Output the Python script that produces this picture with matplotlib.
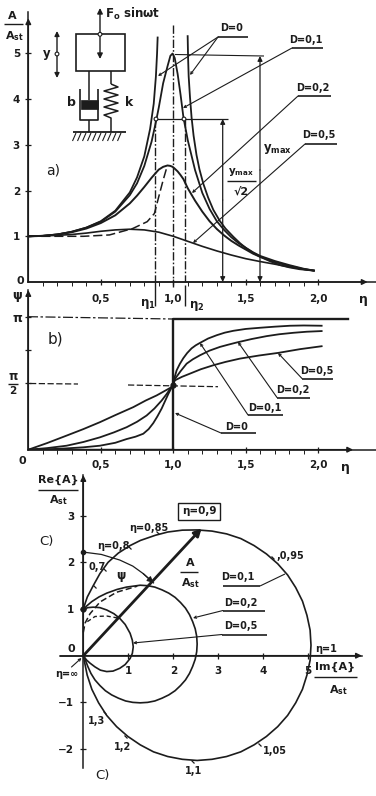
import matplotlib
matplotlib.use("Agg")
import matplotlib.pyplot as plt
from matplotlib.patches import Circle, Rectangle

plt.rcParams['font.family'] = ['DejaVu Sans']
plt.rcParams['font.weight'] = 'bold'
plt.rcParams['mathtext.default'] = 'bf'

W, H = 376, 796
INK = "#1c1c1c"

# a) Amplitudenkurven
eta_a = [0, .1, .2, .3, .4, .5, .6, .7, .75, .8, .85, .88, .9, .93, .96, .98, .995, 1.01, 1.03, 1.05, 1.07, 1.1, 1.15,
         1.2, 1.25, 1.3, 1.35, 1.4, 1.45, 1.5, 1.55, 1.6, 1.7, 1.8, 1.9, 1.97]
amp_d01 = [1, 1.01, 1.04, 1.10, 1.19, 1.32, 1.54, 1.90, 2.16, 2.54, 3.07, 3.5, 3.82, 4.35, 4.72, 4.95, 5.0, 4.9, 4.55,
           4.1, 3.6, 3.1, 2.45, 1.95, 1.6, 1.33, 1.14, .98, .85, .75, .65, .57, .46, .37, .29, .25]
amp_d02 = [1, 1.01, 1.04, 1.09, 1.17, 1.29, 1.46, 1.72, 1.89, 2.08, 2.28, 2.39, 2.46, 2.52, 2.55, 2.54, 2.52, 2.48, 2.42,
           2.34, 2.25, 2.05, 1.78, 1.54, 1.33, 1.16, 1.02, .90, .80, .71, .62, .55, .44, .35, .28, .25]
eta_d05 = [0, .2, .3, .4, .5, .6, .7, .8, .9, 1.0, 1.1, 1.2, 1.3, 1.4, 1.5, 1.6, 1.7, 1.8, 1.9, 1.97]
amp_d05 = [1, 1.02, 1.04, 1.07, 1.11, 1.14, 1.155, 1.14, 1.09, 1.0, .89, .78, .68, .59, .51, .447, .39, .33, .28, .25]
eta_d0_left = [0, .1, .2, .3, .4, .5, .6, .7, .75, .8, .84, .865, .88, .888, .892]
amp_d0_left = [1, 1.01, 1.04, 1.10, 1.19, 1.33, 1.56, 1.96, 2.29, 2.75, 3.35, 3.9, 4.5, 5.0, 5.35]
eta_d0_right = [1.099, 1.102, 1.106, 1.115, 1.126, 1.14, 1.16, 1.18, 1.207, 1.24, 1.276, 1.32, 1.36, 1.414, 1.46,
                1.506, 1.55, 1.6, 1.67, 1.736, 1.8, 1.87, 1.966]
amp_d0_right = [5.38, 4.9, 4.5, 4.05, 3.6, 3.2, 2.78, 2.47, 2.15, 1.85, 1.58, 1.34, 1.17, .99, .85,
                .73, .64, .55, .45, .37, .32, .28, .25]
eta_dash = [0, .38, .56, .72, .82, .87, .9, .93, .95, .96]
amp_dash = [1, 1, 1.03, 1.17, 1.32, 1.5, 1.87, 2.23, 2.45, 2.54]
amp_ticks = [1, 2, 3, 4, 5]
eta_ticks = [.5, 1, 1.5, 2]
eta_labels = ["0,5", "1,0", "1,5", "2,0"]
eta_minor = [.1, .2, .3, .4, .6, .7, .8, .9, 1.1, 1.2, 1.3, 1.4, 1.6, 1.7, 1.8, 1.9]

# b) Phasenwinkel in Vielfachen von pi
eta_p01 = [0, .13, .264, .38, .494, .6, .678, .74, .793, .83, .862, .89, .92, .945, .966, .985, 1.0, 1.008, 1.023,
           1.045, 1.069, 1.095, 1.126, 1.155, 1.184, 1.24, 1.3, 1.355, 1.414, 1.5, 1.6, 1.7, 1.805, 1.9, 2.023]
psi_p01 = [0, .003, .01, .018, .03, .052, .08, .098, .12, .155, .2, .25, .31, .37, .42, .46, .49, .54, .597,
           .645, .688, .726, .762, .785, .803, .836, .861, .88, .894, .908, .917, .925, .932, .934, .932]
eta_p02 = [0, .13, .264, .38, .494, .59, .678, .75, .816, .87, .92, .955, .98, 1.0, 1.01, 1.05, 1.092, 1.135, 1.184,
           1.25, 1.322, 1.38, 1.437, 1.54, 1.644, 1.73, 1.828, 1.92, 2.023]
psi_p02 = [0, .012, .03, .058, .093, .13, .169, .21, .257, .31, .37, .42, .46, .49, .53, .59, .647, .68, .71,
           .745, .773, .79, .806, .832, .854, .868, .879, .887, .892]
eta_p05 = [0, .13, .264, .38, .494, .6, .724, .81, .885, .989, 1.0, 1.01, 1.06, 1.115, 1.19, 1.276, 1.36, 1.46, 1.59,
           1.724, 1.874, 2.023]
psi_p05 = [0, .05, .106, .155, .207, .26, .32, .37, .408, .471, .49, .521, .548, .572, .605, .635, .66, .685, .708,
           .728, .756, .778]
eta_p0 = [0, 1, 1, 1, 2.207]
psi_p0 = [0, 0, .49, .98, .98]

# c) Ortskurven
im_d01 = [0, .04, .09, .15, .22, .37, .55, .78, 1.04, 1.27, 1.6, 1.875, 2.2, 2.53, 2.86, 3.185, 3.5, 3.795, 4.07, 4.32,
          4.54, 4.72, 4.87, 4.97, 5.04, 5.06, 5.04, 4.97, 4.87, 4.72, 4.54, 4.32, 4.07, 3.795, 3.5, 3.185, 2.86, 2.53,
          2.2, 1.875, 1.56, 1.265, .99, .74, .52, .34, .19, .086, .02, 0]
re_d01 = [.99, 1.12, 1.26, 1.37, 1.5, 1.76, 2.0, 2.2, 2.36, 2.47, 2.58, 2.65, 2.69, 2.695, 2.67, 2.61, 2.51, 2.36, 2.18, 1.97,
          1.73, 1.46, 1.17, .865, .549, .225, -.099, -.414, -.72, -1.01, -1.28, -1.52, -1.73, -1.91, -2.06, -2.16, -2.22,
          -2.245, -2.22, -2.16, -2.06, -1.91, -1.73, -1.52, -1.28, -1.01, -.72, -.414, -.099, 0]
im_d02 = [0, .08, .19, .35, .52, .75, .96, 1.265, 1.43, 1.59, 1.75, 1.9, 2.04, 2.16, 2.27, 2.36, 2.43, 2.487, 2.52, 2.53,
          2.52, 2.487, 2.43, 2.36, 2.27, 2.16, 2.04, 1.9, 1.75, 1.59, 1.43, 1.265, 1.10, .94, .78, .63, .49, .37, .26,
          .17, .1, .04, 0]
re_d02 = [.99, 1.07, 1.16, 1.26, 1.34, 1.42, 1.47, 1.51, 1.50, 1.47, 1.41, 1.34, 1.25, 1.14, 1.02, .88, .73, .576, .415, .25,
          .085, -.076, -.23, -.38, -.52, -.64, -.75, -.84, -.91, -.97, -1.0, -1.01, -1.0, -.97, -.91, -.84, -.75, -.64, -.52,
          -.38, -.23, -.076, 0]
im_d05 = [0, .1, .22, .37, .52, .68, .81, .93, 1.04, 1.09, 1.11, 1.09, 1.04, .93, .81, .66, .52, .38, .26, .15, .07, 0]
re_d05 = [.99, 1.03, 1.04, 1.03, .98, .9, .8, .67, .48, .33, .19, .05, -.06, -.19, -.27, -.33, -.34, -.31, -.24, -.16,
          -.09, 0]
im_dash1 = [0, .04, .15, .37, .74, 1.2]
re_dash1 = [.5, .7, .9, 1.15, 1.36, 1.49]
im_dash2 = [.09, .26, .52, .81]
re_dash2 = [.73, .84, .85, .8]
im_arc = [0, .4, .81, 1.1, 1.33, 1.56]
re_arc = [2.22, 2.17, 2.05, 1.92, 1.76, 1.56]
im_arrow = 2.63
re_arrow = 2.73


def panel(x0, x1, y0, y1, xlim, ylim):
    # Pixelrechteck oben links -> Achsen
    ax = fig.add_axes([x0 / W, 1 - y1 / H, (x1 - x0) / W, (y1 - y0) / H])
    ax.set_xlim(*xlim)
    ax.set_ylim(*ylim)
    ax.patch.set_visible(False)
    ax.spines['top'].set_visible(False)
    ax.spines['right'].set_visible(False)
    for s in ax.spines.values():
        s.set_linewidth(1.1)
        s.set_color(INK)
    ax.tick_params(colors=INK, labelsize=7.5, width=.9, length=5, direction='inout')
    ax.tick_params(which='minor', width=.7, length=3, direction='out', colors=INK)
    return ax


def arrows(ax, xend, yend, xorigin=0, yorigin=0):
    for xy in [(xend, yorigin), (xorigin, yend)]:
        ax.annotate("", xy=xy, xytext=(xorigin, yorigin), annotation_clip=False,
                    arrowprops=dict(arrowstyle='-|>', lw=1.1, color=INK, mutation_scale=8, shrinkA=0, shrinkB=0))


fig = plt.figure(figsize=(W / 100, H / 100), dpi=100, facecolor='white')

# a)
ax_a = panel(28.3, 28.3 + 2.4 * 145, 282 - 5.9 * 45.7, 282, (0, 2.4), (0, 5.9))
ax_a.plot(eta_d0_left, amp_d0_left, color=INK, lw=1.3)
ax_a.plot(eta_d0_right, amp_d0_right, color=INK, lw=1.3)
ax_a.plot(eta_a, amp_d01, color=INK, lw=1.3)
ax_a.plot(eta_a, amp_d02, color=INK, lw=1.4)
ax_a.plot(eta_d05, amp_d05, color=INK, lw=1.2)
ax_a.plot(eta_dash, amp_dash, color=INK, lw=1.1, ls=(0, (6, 2.5)))
ax_a.set_yticks(amp_ticks)
ax_a.set_xticks(eta_ticks, eta_labels)
ax_a.set_xticks(eta_minor, minor=True)
ax_a.tick_params(axis='x', pad=6)
arrows(ax_a, 2.34, 5.77)

# b)
ax_b = panel(28.3, 28.3 + 2.4 * 145, 449.7 - 1.2 * 133, 449.7, (0, 2.4), (0, 1.2))
for e, p in [(eta_p01, psi_p01), (eta_p02, psi_p02), (eta_p05, psi_p05)]:
    ax_b.plot(e, p, color=INK, lw=1.3)
ax_b.plot(eta_p0, psi_p0, color=INK, lw=1.7)
ax_b.plot([1], [.49], 'o', color=INK, ms=3.5)
ax_b.set_yticks([.5, .75, 1], ["", "", r"$\pi$"])
ax_b.set_xticks(eta_ticks, eta_labels)
ax_b.set_xticks(eta_minor, minor=True)
ax_b.tick_params(axis='x', pad=5)
ax_b.tick_params(axis='y', labelsize=9, pad=1)
arrows(ax_b, 2.24, 1.2)

# c)
ax_c = panel(83.3 - .52 * 45, 83.3 + 6.19 * 45, 655.7 - 3.87 * 46.67, 655.7 + 2.41 * 46.67, (-.52, 6.19), (-2.41, 3.87))
ax_c.spines['left'].set_position('zero')
ax_c.spines['bottom'].set_position('zero')
ax_c.plot(im_d01, re_d01, color=INK, lw=1.2)
ax_c.plot(im_d02, re_d02, color=INK, lw=1.2)
ax_c.plot(im_d05, re_d05, color=INK, lw=1.2)
ax_c.plot(im_dash1, re_dash1, color=INK, lw=1.1, ls=(0, (4, 2)))
ax_c.plot(im_dash2, re_dash2, color=INK, lw=1.0, ls=(0, (3, 2)))
ax_c.plot(im_arc, re_arc, color=INK, lw=.9)
ax_c.plot(im_arc[0], re_arc[0], 'o', color=INK, ms=3, clip_on=False)
ax_c.plot([0], [.99], 'o', color=INK, ms=3.5, clip_on=False)
ax_c.annotate("", xy=(im_arc[-1], re_arc[-1]), xytext=(im_arc[-2], re_arc[-2]),
              arrowprops=dict(arrowstyle='-|>', lw=.9, color=INK, mutation_scale=9, shrinkA=0, shrinkB=0))
ax_c.annotate("", xy=(im_arrow, re_arrow), xytext=(0, 0),
              arrowprops=dict(arrowstyle='-|>', lw=2, color=INK, mutation_scale=11, shrinkA=0, shrinkB=0))
ax_c.set_xticks([1, 2, 3, 4, 5])
ax_c.set_yticks([-2, -1, 1, 2, 3], ["−2", "−1", "1", "2", "3"])
ax_c.tick_params(axis='x', pad=5)
ax_c.tick_params(axis='y', pad=4)
ax_c.plot([-.52, 0], [0, 0], color=INK, lw=1.1)
arrows(ax_c, 6.19, 3.87)

# Zeichenebene in Pixeln: Schema, Hilfslinien, Beschriftung
ov = fig.add_axes([0, 0, 1, 1], zorder=5)
ov.set_xlim(0, W)
ov.set_ylim(H, 0)
ov.axis('off')
ov.patch.set_visible(False)


def line(xs, ys, lw=.9, ls='-'):
    ov.plot(xs, ys, color=INK, lw=lw, ls=ls, solid_capstyle='butt')


def arrow(p0, p1, lw=.9, scale=7, style='-|>'):
    ov.annotate("", xy=p1, xytext=p0, arrowprops=dict(arrowstyle=style, lw=lw, color=INK, mutation_scale=scale,
                                                      shrinkA=0, shrinkB=0))


def label(x, y, s, size=7.5, **kw):
    ov.text(x, y, s, fontsize=size, color=INK, ha='center', va='center', **kw)


def dlabel(x, y, s, ux0, ux1, uy, tips):
    label(x, y, s, size=7)
    line([ux0, ux1], [uy, uy], lw=1.2)
    for start, tip in tips:
        arrow(start, tip, lw=.8, scale=4, style='->')


def ring(x, y, r=1.9):
    ov.add_patch(Circle((x, y), r, fc='white', ec=INK, lw=.8, zorder=6))


# Schema
ov.add_patch(Rectangle((76, 34.3), 49.3, 36.7, fc='none', ec=INK, lw=1.2))
arrow((100, 34), (100, 8), lw=1, scale=8)
arrow((100, 34), (100, 59), lw=1, scale=8)
ring(100, 34.3)
arrow((57, 54), (57, 31), lw=1, scale=7)
arrow((57, 54), (57, 78), lw=1, scale=7)
ring(57, 54)
label(47, 54, "y", 8.5)
label(133, 14, "F$_{\\mathrm{o}}$ sinωt", 8.5)
line([89, 89], [71, 100], lw=1.1)
line([80, 80, 97.5, 97.5], [89, 120, 120, 89], lw=1.2)
ov.add_patch(Rectangle((80.5, 100), 17, 9, fc=INK, ec=INK, lw=.5))
line([88.5, 88.5], [120, 132], lw=1.1)
line([111, 111], [71, 84], lw=1.1)
line([111, 118, 104, 118, 104, 118, 104, 118, 104, 111, 111], [84, 87, 91, 95, 99, 103, 107, 111, 115, 118, 132], lw=1.1)
line([73, 126], [132, 132], lw=1.3)
for hx in range(76, 126, 5):
    line([hx, hx - 3.5], [133, 141], lw=.8)
label(71, 103, "b", 9)
label(129, 103, "k", 9)
label(53, 171, "a)", 10, fontweight='normal')

# a) Hilfslinien
line([172.7, 172.7], [25, 287], lw=1, ls=(0, (6, 1.5, 1.2, 1.5)))
line([155, 155], [119, 282], lw=1, ls=(0, (6, 1.5, 1.2, 1.5)))
line([185, 185], [119, 282], lw=1, ls=(0, (6, 1.5, 1.2, 1.5)))
line([155, 155], [282, 306], lw=1)
line([185, 185], [285, 306], lw=1)
line([156, 228], [119, 119], lw=.9)
line([175, 264], [54.5, 56], lw=.8)
arrow((222.7, 200), (222.7, 119), lw=.9)
arrow((222.7, 200), (222.7, 282), lw=.9)
arrow((260, 170), (260, 56), lw=.9)
arrow((260, 170), (260, 282), lw=.9)
ring(156, 119)
ring(184, 119)
label(278, 149, "y$_{\\mathrm{max}}$", 8.5, backgroundcolor='none')
label(241, 172, "y$_{\\mathrm{max}}$", 7.5)
line([227, 256], [181, 181], lw=1)
label(241, 192, "√2", 8)
label(12, 16, "A", 8)
line([4, 23], [24, 24], lw=1)
label(14, 36, "A$_{\\mathrm{st}}$", 8)
label(20, 281, "0", 8)
label(148, 304, "η$_{\\mathrm{1}}$", 8.5)
label(197, 306, "η$_{\\mathrm{2}}$", 8.5)
label(363, 300, "η", 9)
dlabel(232, 28, "D=0", 218, 248, 37, [((218, 37), (158, 76)), ((218, 37), (190, 75))])
dlabel(306, 40, "D=0,1", 292, 323, 48, [((292, 48), (183, 108))])
dlabel(313, 88, "D=0,2", 298, 331, 96, [((298, 96), (192, 193))])
dlabel(319, 135, "D=0,5", 305, 337, 144, [((305, 144), (193, 243))])

# b) Hilfslinien
line([28, 173], [316.7, 319], lw=.9, ls=(0, (8, 2, 2, 2)))
line([30, 78], [383.5, 384], lw=.9, ls=(0, (5, 2)))
line([128, 218], [385, 386.7], lw=.9, ls=(0, (5, 2)))
label(17, 295, "ψ", 9)
label(55, 339, "b)", 11, fontweight='normal')
label(22, 461, "0", 8)
label(345, 467, "η", 9)
label(13, 376, "π", 8.5)
line([8, 18], [384, 384], lw=1)
label(13, 391, "2", 7.5)
dlabel(317, 371, "D=0,5", 302, 333, 378.5, [((302, 378.5), (278, 353))])
dlabel(293, 390, "D=0,2", 277, 310, 397.5, [((277, 397.5), (238, 342))])
dlabel(265, 408, "D=0,1", 248, 283, 415, [((248, 415), (200, 343))])
dlabel(237, 427, "D=0", 221, 256, 433, [((221, 433), (175, 413))])

# c) Beschriftung
label(58, 480, "Re{A}", 8)
line([38, 78], [490, 490], lw=1)
label(58, 500, "A$_{\\mathrm{st}}$", 8)
label(199, 511.5, "η=0,9", 7.5,
      bbox=dict(boxstyle='square,pad=0.35', fc='white', ec=INK, lw=1))
label(149, 528, "η=0,85", 7)
label(113, 546, "η=0,8", 7)
label(97, 567, "0,7", 7)
label(121, 576, "ψ", 8.5)
label(46, 541.7, "C)", 9.5, fontweight='normal')
label(190, 562.5, "A", 8)
line([180, 198], [571.5, 571.5], lw=1)
label(190, 583, "A$_{\\mathrm{st}}$", 8)
label(290, 556, ",0,95", 7)
label(326, 649, "η=1", 7)
label(335, 667, "Im{A}", 8)
line([314, 357], [677, 677], lw=1)
label(338, 690, "A$_{\\mathrm{st}}$", 8)
label(71, 649, "0", 8)
label(67, 674, "η=∞", 7)
label(97, 721.5, "1,3", 7)
label(122.5, 746.5, "1,2", 7)
label(194, 771.5, "1,1", 7)
label(275, 751.5, "1,05", 7)
label(102, 775, "C)", 9.5, fontweight='normal')
arrow((71.5, 667), (81.5, 658), lw=.8, scale=4, style='->')
dlabel(238, 577, "D=0,1", 223, 260, 586, [])
line([260, 285], [586, 574], lw=.8)
dlabel(241, 602.5, "D=0,2", 223, 265, 610.5, [((223, 610.5), (193, 618))])
dlabel(241, 626, "D=0,5", 222, 267, 634.5, [((222, 634.5), (133, 643))])
# kleine Striche auf der Kurve D=0,1
for tx, ty in [(158, 533), (130, 548), (105, 570), (95, 587), (273, 558), (105, 713), (126, 737), (193, 762), (260, 745)]:
    line([tx - 1.5, tx + 1.5], [ty - 1.5, ty + 1.5], lw=.9)

fig.savefig("out.png", dpi=100)
